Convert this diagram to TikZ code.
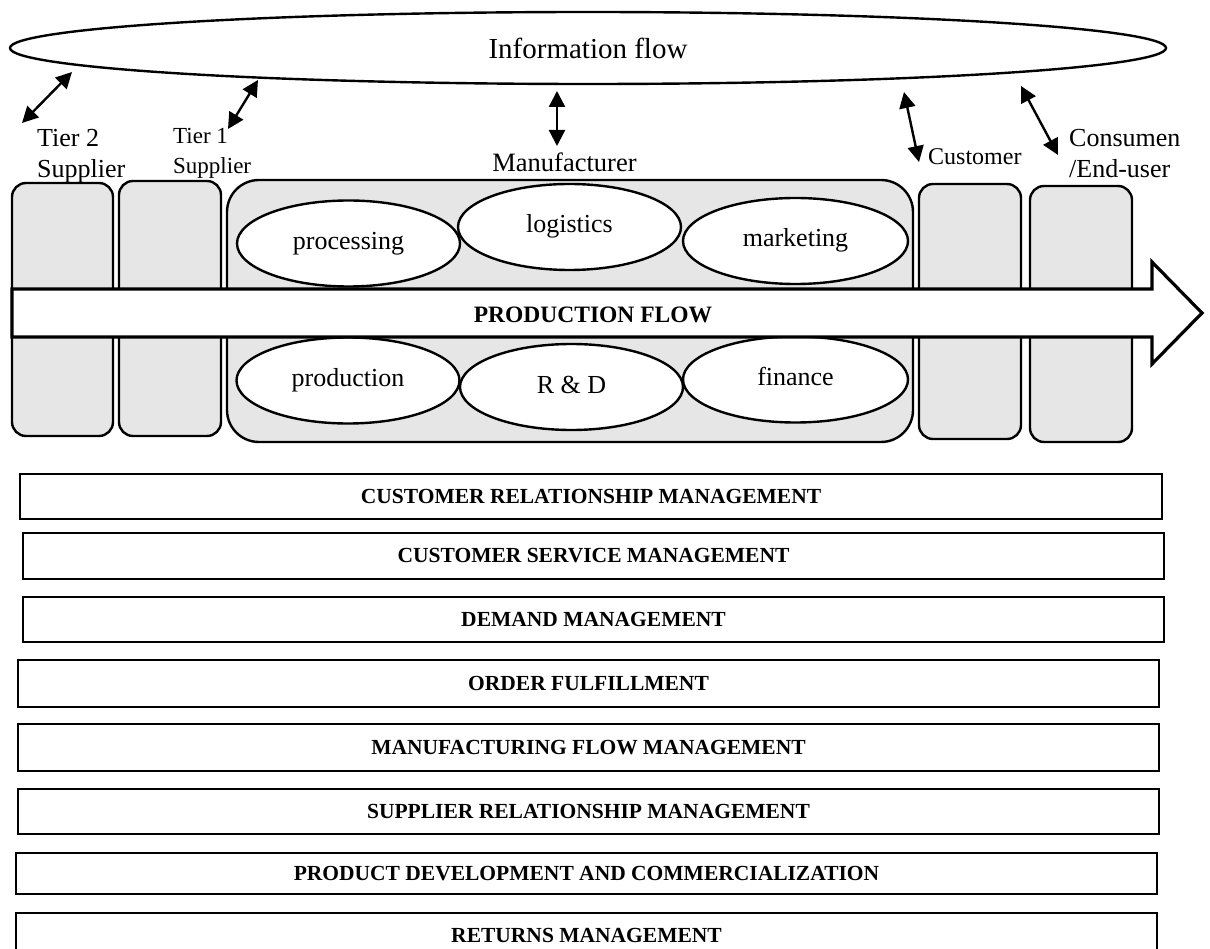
\documentclass[tikz,border=0pt]{standalone}
\usepackage{fontspec}
\setmainfont{Liberation Serif}
\usepackage{tikz}
\usetikzlibrary{positioning,arrows.meta,shapes.geometric}
\definecolor{BoxGray}{HTML}{E6E6E6}

\begin{document}
\begin{tikzpicture}[
    x=1pt, y=-1pt,
    party/.style={draw, line width=2.4pt, rounded corners=14pt, fill=BoxGray, inner sep=0pt},
    dept/.style={draw, ellipse, line width=2.4pt, fill=white, inner sep=0pt,
      minimum width=223pt, minimum height=86pt, text height=18pt, text depth=6pt,
      font=\fontsize{26}{31}\selectfont},
    proc/.style={draw, line width=2.6pt, fill=white, inner sep=0pt,
      font=\fontsize{21.5}{26}\selectfont\bfseries},
    lbl/.style={inner sep=0pt, align=left},
    link/.style={{Triangle[length=16pt,width=16pt]}-{Triangle[length=16pt,width=16pt]}, line width=2.4pt}
  ]
    \useasboundingbox (0,0) rectangle (1210,949);

    \node[draw, ellipse, line width=2.4pt, inner sep=0pt, minimum width=1156pt, minimum height=72pt,
      font=\fontsize{29}{35}\selectfont] (info) at (588,48) {Information flow};

    % supply chain members
    \node[party, minimum width=101pt, minimum height=253pt] (tier2) at (62.5,309.5) {};
    \node[party, minimum width=102pt, minimum height=255pt] (tier1) at (170,308.5) {};
    \node[party, minimum width=686pt, minimum height=262pt, rounded corners=32pt] (manu) at (570,311) {};
    \node[party, minimum width=102pt, minimum height=255pt] (cust) at (970,311.5) {};
    \node[party, minimum width=102pt, minimum height=256pt] (endu) at (1081,314) {};

    \node[dept] (proces) at (348.5,243.5) {processing};
    \node[dept] (logist) at (569.5,227) {logistics};
    \node[dept, minimum width=225pt] (market) at (795.5,241) {marketing};
    \node[dept] (produc) at (348,380.5) {production};
    \node[dept] (rnd) at (571.5,387) {R \& D};
    \node[dept, minimum width=225pt] (financ) at (795.5,379.5) {finance};

    \draw[line width=3.2pt, fill=white] (12,289) -- (1152,289) -- (1152,262) -- (1202,313)
      -- (1152,364) -- (1152,337) -- (12,337) -- cycle;
    \node[inner sep=0pt, font=\fontsize{23.5}{28}\selectfont\bfseries] (pflow) at (593,315) {PRODUCTION FLOW};

    \node[lbl, anchor=north west, font=\fontsize{26}{31}\selectfont] (tier2lbl) at (37,129) {Tier 2\\Supplier};
    \node[lbl, anchor=north west, font=\fontsize{23}{30}\selectfont] (tier1lbl) at (173,128.3) {Tier 1\\Supplier};
    \node[lbl, anchor=base, font=\fontsize{26.5}{31}\selectfont] (manulbl) at (564.5,172) {Manufacturer};
    \node[lbl, anchor=base west, font=\fontsize{24}{29}\selectfont] (custlbl) at (928,165) {Customer};
    \node[lbl, anchor=north west, font=\fontsize{26}{31}\selectfont] (endulbl) at (1069,129.4) {Consumen\\/End-user};

    \coordinate (i1) at (72,72);    \coordinate (s1) at (22,123);
    \coordinate (i2) at (258,80);   \coordinate (s2) at (228,129);
    \coordinate (i3) at (557,91);   \coordinate (s3) at (557,146);
    \coordinate (i4) at (904,92);   \coordinate (s4) at (919,162);
    \coordinate (i5) at (1021,86);  \coordinate (s5) at (1058,155);

    \draw[link] (i1) -- (s1);
    \draw[link] (i2) -- (s2);
    \draw[link] (i3) -- (s3);
    \draw[link] (i4) -- (s4);
    \draw[link] (i5) -- (s5);

    % business processes
    \node[proc, minimum width=1142pt, minimum height=45pt] (crm) at (591,496.5) {CUSTOMER RELATIONSHIP MANAGEMENT};
    \node[proc, minimum width=1141pt, minimum height=46pt] (csm) at (593.5,556) {CUSTOMER SERVICE MANAGEMENT};
    \node[proc, minimum width=1141pt, minimum height=45pt] (dm) at (593.5,619.5) {DEMAND MANAGEMENT};
    \node[proc, minimum width=1141pt, minimum height=47pt] (of) at (588.5,683.5) {ORDER FULFILLMENT};
    \node[proc, minimum width=1141pt, minimum height=47pt] (mfm) at (588.5,747.5) {MANUFACTURING FLOW MANAGEMENT};
    \node[proc, minimum width=1141pt, minimum height=45pt] (srm) at (588.5,811.5) {SUPPLIER RELATIONSHIP MANAGEMENT};
    \node[proc, minimum width=1141pt, minimum height=41pt] (pdc) at (586.5,873.5) {PRODUCT DEVELOPMENT AND COMMERCIALIZATION};
    \node[proc, minimum width=1141pt, minimum height=44pt] (rm) at (586.5,935) {RETURNS MANAGEMENT};
  \end{tikzpicture}
\end{document}
